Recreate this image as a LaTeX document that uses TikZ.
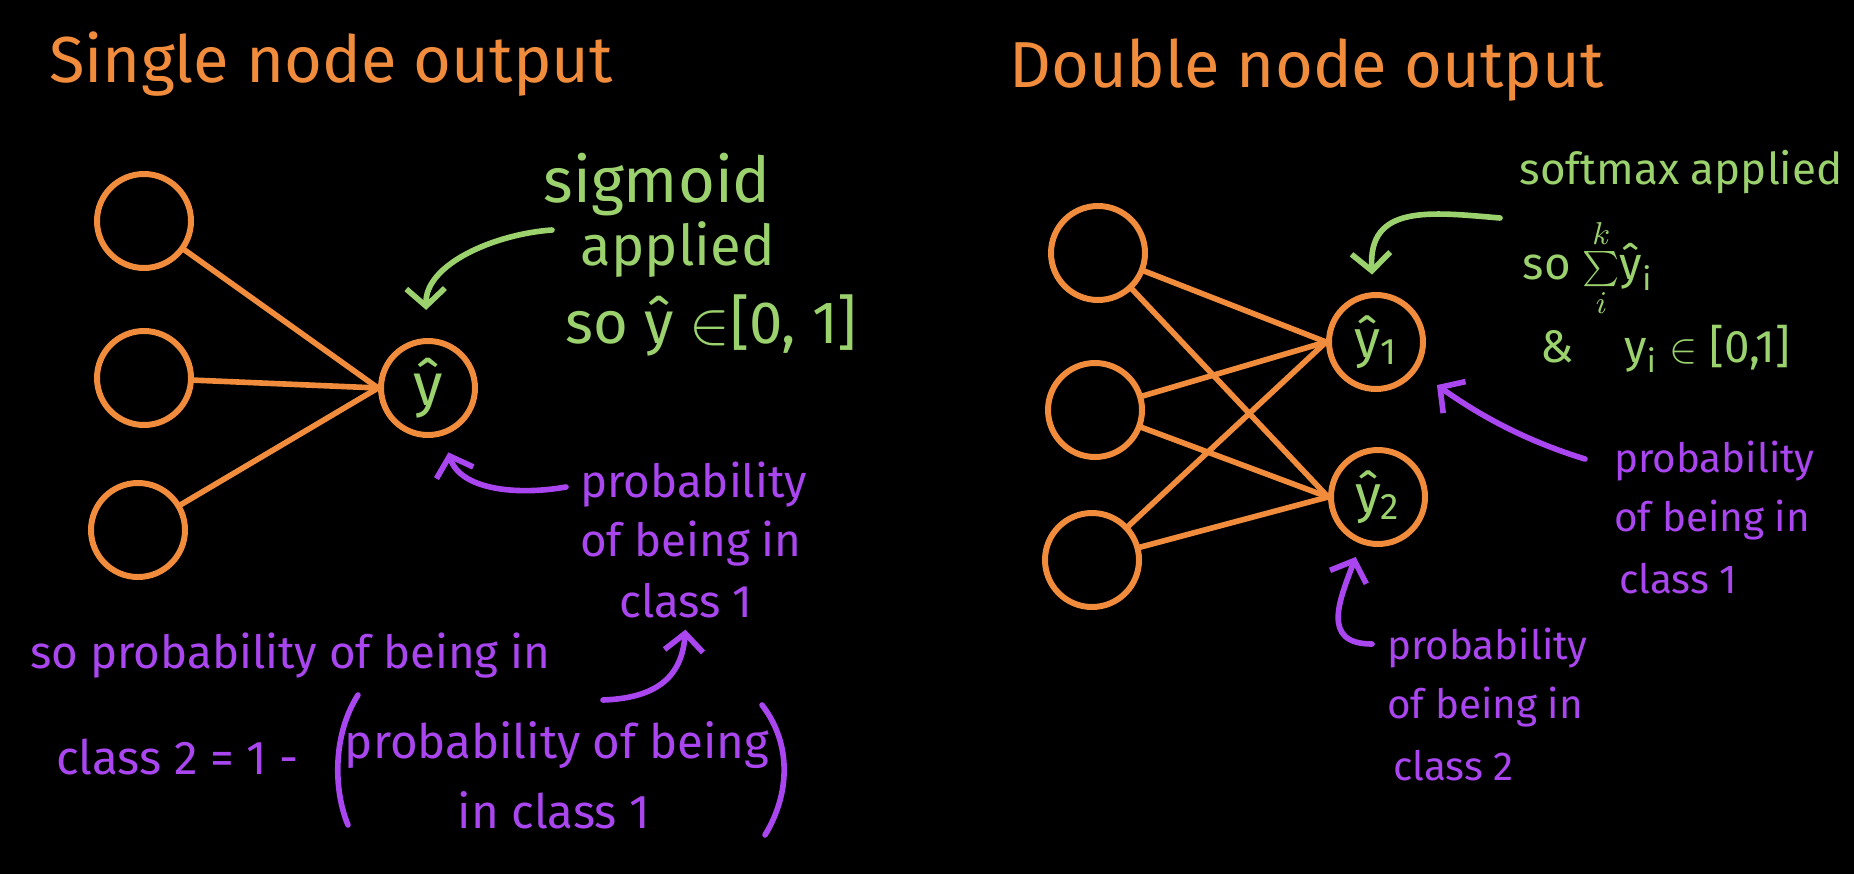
\documentclass[tikz,border=0pt]{standalone}
\usepackage{fontspec}
\setmainfont{Fira Sans}
\usetikzlibrary{arrows.meta,calc}

\definecolor{penorange}{RGB}{240,140,60}
\definecolor{pengreen}{RGB}{155,210,110}
\definecolor{penpurple}{RGB}{170,70,240}

\newcommand{\penfont}[1]{\fontsize{#1}{#1}\selectfont}

\tikzset{
  ring/.style={circle,draw=penorange,line width=1.7pt,minimum size=0.94cm,inner sep=0pt,text=pengreen},
  wire/.style={draw=penorange,line width=1.6pt,line cap=round},
  paren/.style={draw=penpurple,line width=1.6pt,line cap=round},
  title/.style={anchor=west,inner sep=1pt,text=penorange,font=\penfont{18.5}},
  gnote/.style={anchor=west,inner sep=0pt,text=pengreen},
  pnote/.style={anchor=west,inner sep=1pt,text=penpurple},
  garrow/.style={draw=pengreen,line width=1.6pt,line cap=round,-{Straight Barb[length=5pt,width=11pt]}},
  parrow/.style={draw=penpurple,line width=1.6pt,line cap=round,-{Straight Barb[length=5pt,width=11pt]}},
}

\begin{document}
\begin{tikzpicture}
  \fill[black] (0,0) rectangle (18.54,8.74);
  \useasboundingbox (0,0) rectangle (18.54,8.74);

  % titles
  \node[title] (tleft) at (0.45,8.10) {Single node output};
  \node[title] (tright) at (10.05,8.04) {Double node output};

  % single output
  \node[ring] (in1) at (1.44,6.53) {};
  \node[ring] (in2) at (1.44,4.96) {};
  \node[ring] (in3) at (1.38,3.44) {};
  \node[ring,font=\penfont{17}] (out) at (4.28,4.86) {ŷ};
  \foreach \i in {1,2,3}
    \draw[wire] (in\i) -- (out.west);

  \node[gnote,font=\penfont{18}] (sig1) at (5.43,6.89) {sigmoid};
  \node[gnote,font=\penfont{16}] (sig2) at (5.80,6.24) {applied};
  \node[gnote,font=\penfont{17}] (sig3) at (5.65,5.49) {so ŷ $\in$[0, 1]};
  \coordinate (gs1) at (5.52,6.44);
  \draw[garrow,shorten >=8pt] (gs1) .. controls (4.95,6.40) and (4.25,6.10) .. (out);

  \node[pnote,font=\penfont{13}] (pl1) at (5.76,3.89) {probability};
  \node[pnote,font=\penfont{13}] (pl2) at (5.76,3.30) {of being in};
  \node[pnote,font=\penfont{13}] (pl3) at (6.15,2.73) {class 1};
  \coordinate (ps1) at (5.66,3.87);
  \draw[parrow,shorten >=5pt] (ps1) .. controls (5.15,3.78) and (4.60,3.85) .. (out);

  % class 2 = 1 - p
  \node[pnote,font=\penfont{13}] (bl1) at (0.26,2.18) {so probability of being in};
  \node[pnote,font=\penfont{13.5}] (bl2) at (0.52,1.17) {class 2 = 1 -};
  \node[pnote,anchor=center,font=\penfont{13.5}] (bl3) at (5.57,1.29) {probability of being};
  \node[pnote,anchor=center,font=\penfont{13.5}] (bl4) at (5.54,0.64) {in class 1};
  \draw[paren] (3.58,1.79) .. controls (3.33,1.40) and (3.33,0.85) .. (3.48,0.49);
  \draw[paren] (7.62,1.69) .. controls (7.92,1.30) and (7.90,0.80) .. (7.65,0.39);
  \coordinate (bs1) at (6.03,1.74);
  \draw[parrow,shorten >=2pt] (bs1) .. controls (6.60,1.76) and (6.82,2.00) .. (pl3.south);

  % double output
  \node[ring] (rin1) at (10.98,6.21) {};
  \node[ring] (rin2) at (10.95,4.64) {};
  \node[ring] (rin3) at (10.92,3.14) {};
  \node[ring,font=\penfont{15}] (y1) at (13.76,5.32) {ŷ\textsubscript{1}};
  \node[ring,font=\penfont{15}] (y2) at (13.78,3.77) {ŷ\textsubscript{2}};
  \foreach \i in {1,2,3} {
    \draw[wire] (rin\i) -- (y1.west);
    \draw[wire] (rin\i) -- (y2.west);
  }

  \node[gnote,font=\penfont{12.5}] (sm1) at (15.19,7.02) {softmax applied};
  \node[gnote,font=\penfont{13}] (sm2) at (15.22,6.06) {so $\sum\limits_{i}^{k}$ŷ\textsubscript{i}};
  \node[gnote,font=\penfont{13}] (sm3) at (15.40,5.25) {\&\hspace{1.1em}y\textsubscript{i} $\in$ [0,1]};
  \coordinate (gs2) at (15.00,6.56);
  \draw[garrow,shorten >=5pt] (gs2) .. controls (14.30,6.62) and (13.68,6.70) .. (y1);

  \node[pnote,font=\penfont{11.5}] (pr1) at (16.10,4.13) {probability};
  \node[pnote,font=\penfont{11.5}] (pr2) at (16.10,3.54) {of being in};
  \node[pnote,font=\penfont{11.5}] (pr3) at (16.15,2.95) {class 1};
  \coordinate (ps2) at (15.85,4.15);
  \draw[parrow,shorten >=7pt] (ps2) .. controls (15.20,4.35) and (14.75,4.62) .. (y1);

  \node[pnote,font=\penfont{11.5}] (pb1) at (13.83,2.26) {probability};
  \node[pnote,font=\penfont{11.5}] (pb2) at (13.83,1.67) {of being in};
  \node[pnote,font=\penfont{11.5}] (pb3) at (13.89,1.08) {class 2};
  \coordinate (ps3) at (13.72,2.30);
  \draw[parrow,shorten >=4pt] (ps3) .. controls (13.20,2.30) and (13.40,2.75) .. (y2);
\end{tikzpicture}
\end{document}
